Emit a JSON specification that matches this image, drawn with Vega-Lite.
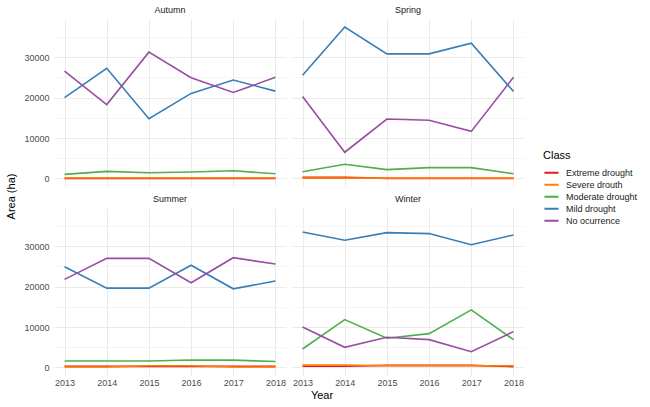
{
  "$schema": "https://vega.github.io/schema/vega-lite/v6.json",
  "background": "white",
  "padding": {"left": 5, "top": 6, "right": 5, "bottom": 2},
  "config": {
    "font": "Liberation Sans",
    "view": {"stroke": null},
    "axis": {
      "domain": false,
      "ticks": false,
      "labelFontSize": 9,
      "labelColor": "#4d4d4d",
      "gridColor": "#ebebeb",
      "labelPadding": 5
    },
    "header": {"labelFontSize": 9, "labelColor": "#1a1a1a", "labelPadding": 4},
    "title": {"fontSize": 11, "fontWeight": "normal", "color": "#000000"},
    "legend": {"titleFontSize": 11, "titleFontWeight": "normal", "labelFontSize": 9, "labelColor": "#1a1a1a", "titleColor": "#000000"}
  },
  "title": {"text": "Year", "orient": "bottom", "anchor": "middle", "offset": 3},
  "vconcat": [
    {
      "title": {"text": "Area (ha)", "orient": "left", "anchor": "middle", "offset": 7},
      "data": {
        "values": [
          {"s":"Autumn","c":"Extreme drought","y":2013,"v":20},{"s":"Autumn","c":"Extreme drought","y":2014,"v":20},{"s":"Autumn","c":"Extreme drought","y":2015,"v":20},{"s":"Autumn","c":"Extreme drought","y":2016,"v":20},{"s":"Autumn","c":"Extreme drought","y":2017,"v":20},{"s":"Autumn","c":"Extreme drought","y":2018,"v":20},
          {"s":"Spring","c":"Extreme drought","y":2013,"v":300},{"s":"Spring","c":"Extreme drought","y":2014,"v":300},{"s":"Spring","c":"Extreme drought","y":2015,"v":10},{"s":"Spring","c":"Extreme drought","y":2016,"v":10},{"s":"Spring","c":"Extreme drought","y":2017,"v":10},{"s":"Spring","c":"Extreme drought","y":2018,"v":10},
          {"s":"Summer","c":"Extreme drought","y":2013,"v":250},{"s":"Summer","c":"Extreme drought","y":2014,"v":250},{"s":"Summer","c":"Extreme drought","y":2015,"v":250},{"s":"Summer","c":"Extreme drought","y":2016,"v":250},{"s":"Summer","c":"Extreme drought","y":2017,"v":250},{"s":"Summer","c":"Extreme drought","y":2018,"v":250},
          {"s":"Winter","c":"Extreme drought","y":2013,"v":300},{"s":"Winter","c":"Extreme drought","y":2014,"v":300},{"s":"Winter","c":"Extreme drought","y":2015,"v":500},{"s":"Winter","c":"Extreme drought","y":2016,"v":500},{"s":"Winter","c":"Extreme drought","y":2017,"v":500},{"s":"Winter","c":"Extreme drought","y":2018,"v":200},

          {"s":"Autumn","c":"Severe drouth","y":2013,"v":100},{"s":"Autumn","c":"Severe drouth","y":2014,"v":100},{"s":"Autumn","c":"Severe drouth","y":2015,"v":100},{"s":"Autumn","c":"Severe drouth","y":2016,"v":100},{"s":"Autumn","c":"Severe drouth","y":2017,"v":100},{"s":"Autumn","c":"Severe drouth","y":2018,"v":100},
          {"s":"Spring","c":"Severe drouth","y":2013,"v":60},{"s":"Spring","c":"Severe drouth","y":2014,"v":60},{"s":"Spring","c":"Severe drouth","y":2015,"v":60},{"s":"Spring","c":"Severe drouth","y":2016,"v":60},{"s":"Spring","c":"Severe drouth","y":2017,"v":60},{"s":"Spring","c":"Severe drouth","y":2018,"v":60},
          {"s":"Summer","c":"Severe drouth","y":2013,"v":100},{"s":"Summer","c":"Severe drouth","y":2014,"v":100},{"s":"Summer","c":"Severe drouth","y":2015,"v":400},{"s":"Summer","c":"Severe drouth","y":2016,"v":400},{"s":"Summer","c":"Severe drouth","y":2017,"v":100},{"s":"Summer","c":"Severe drouth","y":2018,"v":100},
          {"s":"Winter","c":"Severe drouth","y":2013,"v":600},{"s":"Winter","c":"Severe drouth","y":2014,"v":600},{"s":"Winter","c":"Severe drouth","y":2015,"v":400},{"s":"Winter","c":"Severe drouth","y":2016,"v":400},{"s":"Winter","c":"Severe drouth","y":2017,"v":400},{"s":"Winter","c":"Severe drouth","y":2018,"v":400},

          {"s":"Autumn","c":"Moderate drought","y":2013,"v":1000},{"s":"Autumn","c":"Moderate drought","y":2014,"v":1750},{"s":"Autumn","c":"Moderate drought","y":2015,"v":1420},{"s":"Autumn","c":"Moderate drought","y":2016,"v":1600},{"s":"Autumn","c":"Moderate drought","y":2017,"v":1900},{"s":"Autumn","c":"Moderate drought","y":2018,"v":1170},
          {"s":"Spring","c":"Moderate drought","y":2013,"v":1670},{"s":"Spring","c":"Moderate drought","y":2014,"v":3500},{"s":"Spring","c":"Moderate drought","y":2015,"v":2170},{"s":"Spring","c":"Moderate drought","y":2016,"v":2670},{"s":"Spring","c":"Moderate drought","y":2017,"v":2670},{"s":"Spring","c":"Moderate drought","y":2018,"v":1170},
          {"s":"Summer","c":"Moderate drought","y":2013,"v":1600},{"s":"Summer","c":"Moderate drought","y":2014,"v":1600},{"s":"Summer","c":"Moderate drought","y":2015,"v":1600},{"s":"Summer","c":"Moderate drought","y":2016,"v":1850},{"s":"Summer","c":"Moderate drought","y":2017,"v":1800},{"s":"Summer","c":"Moderate drought","y":2018,"v":1450},
          {"s":"Winter","c":"Moderate drought","y":2013,"v":4560},{"s":"Winter","c":"Moderate drought","y":2014,"v":11850},{"s":"Winter","c":"Moderate drought","y":2015,"v":7210},{"s":"Winter","c":"Moderate drought","y":2016,"v":8370},{"s":"Winter","c":"Moderate drought","y":2017,"v":14250},{"s":"Winter","c":"Moderate drought","y":2018,"v":6880},

          {"s":"Autumn","c":"Mild drought","y":2013,"v":20000},{"s":"Autumn","c":"Mild drought","y":2014,"v":27280},{"s":"Autumn","c":"Mild drought","y":2015,"v":14800},{"s":"Autumn","c":"Mild drought","y":2016,"v":21050},{"s":"Autumn","c":"Mild drought","y":2017,"v":24360},{"s":"Autumn","c":"Mild drought","y":2018,"v":21620},
          {"s":"Spring","c":"Mild drought","y":2013,"v":25530},{"s":"Spring","c":"Mild drought","y":2014,"v":37500},{"s":"Spring","c":"Mild drought","y":2015,"v":30850},{"s":"Spring","c":"Mild drought","y":2016,"v":30850},{"s":"Spring","c":"Mild drought","y":2017,"v":33500},{"s":"Spring","c":"Mild drought","y":2018,"v":21550},
          {"s":"Summer","c":"Mild drought","y":2013,"v":24940},{"s":"Summer","c":"Mild drought","y":2014,"v":19640},{"s":"Summer","c":"Mild drought","y":2015,"v":19640},{"s":"Summer","c":"Mild drought","y":2016,"v":25300},{"s":"Summer","c":"Mild drought","y":2017,"v":19470},{"s":"Summer","c":"Mild drought","y":2018,"v":21380},
          {"s":"Winter","c":"Mild drought","y":2013,"v":33550},{"s":"Winter","c":"Mild drought","y":2014,"v":31480},{"s":"Winter","c":"Mild drought","y":2015,"v":33390},{"s":"Winter","c":"Mild drought","y":2016,"v":33140},{"s":"Winter","c":"Mild drought","y":2017,"v":30400},{"s":"Winter","c":"Mild drought","y":2018,"v":32800},

          {"s":"Autumn","c":"No ocurrence","y":2013,"v":26600},{"s":"Autumn","c":"No ocurrence","y":2014,"v":18300},{"s":"Autumn","c":"No ocurrence","y":2015,"v":31270},{"s":"Autumn","c":"No ocurrence","y":2016,"v":24940},{"s":"Autumn","c":"No ocurrence","y":2017,"v":21300},{"s":"Autumn","c":"No ocurrence","y":2018,"v":25030},
          {"s":"Spring","c":"No ocurrence","y":2013,"v":20300},{"s":"Spring","c":"No ocurrence","y":2014,"v":6480},{"s":"Spring","c":"No ocurrence","y":2015,"v":14710},{"s":"Spring","c":"No ocurrence","y":2016,"v":14390},{"s":"Spring","c":"No ocurrence","y":2017,"v":11650},{"s":"Spring","c":"No ocurrence","y":2018,"v":25040},
          {"s":"Summer","c":"No ocurrence","y":2013,"v":21800},{"s":"Summer","c":"No ocurrence","y":2014,"v":27000},{"s":"Summer","c":"No ocurrence","y":2015,"v":27000},{"s":"Summer","c":"No ocurrence","y":2016,"v":20960},{"s":"Summer","c":"No ocurrence","y":2017,"v":27170},{"s":"Summer","c":"No ocurrence","y":2018,"v":25600},
          {"s":"Winter","c":"No ocurrence","y":2013,"v":10020},{"s":"Winter","c":"No ocurrence","y":2014,"v":4970},{"s":"Winter","c":"No ocurrence","y":2015,"v":7460},{"s":"Winter","c":"No ocurrence","y":2016,"v":6880},{"s":"Winter","c":"No ocurrence","y":2017,"v":3890},{"s":"Winter","c":"No ocurrence","y":2018,"v":8860}
        ]
      },
      "facet": {"field": "s", "type": "nominal", "title": null, "header": {"labelOrient": "top"}},
      "columns": 2,
      "spacing": {"column": 6, "row": 9},
      "spec": {
        "width": 232,
        "height": 167,
        "mark": {"type": "line", "strokeWidth": 1.6, "clip": true},
        "encoding": {
          "x": {
            "field": "y", "type": "quantitative",
            "scale": {"domain": [2012.75, 2018.25], "nice": false, "zero": false},
            "axis": {
              "title": null,
              "values": [2013, 2013.5, 2014, 2014.5, 2015, 2015.5, 2016, 2016.5, 2017, 2017.5, 2018],
              "labelExpr": "datum.value % 1 === 0 ? datum.value : ''",
              "format": "d",
              "labelFlush": false,
              "labelOverlap": false,
              "labelPadding": 3,
              "gridWidth": {"condition": {"test": "datum.value % 1 === 0", "value": 1}, "value": 0.5}
            }
          },
          "y": {
            "field": "v", "type": "quantitative",
            "scale": {"domain": [-1880, 39480], "nice": false, "zero": false},
            "axis": {
              "title": null,
              "values": [0, 5000, 10000, 15000, 20000, 25000, 30000, 35000],
              "labelExpr": "datum.value % 10000 === 0 ? datum.value : ''",
              "labelOverlap": false,
              "labelFlush": false,
              "gridWidth": {"condition": {"test": "datum.value % 10000 === 0", "value": 1}, "value": 0.5}
            }
          },
          "color": {
            "field": "c", "type": "nominal",
            "scale": {
              "domain": ["Extreme drought", "Severe drouth", "Moderate drought", "Mild drought", "No ocurrence"],
              "range": ["#E41A1C", "#FF7F00", "#4DAF4A", "#377EB8", "#984EA3"]
            },
            "legend": {
              "title": "Class",
              "orient": "none",
              "legendX": 489,
              "legendY": 131,
              "symbolType": "stroke",
              "symbolSize": 200,
              "symbolStrokeWidth": 2,
              "rowPadding": 0,
              "clipHeight": 11.7,
              "labelOffset": 6,
              "titlePadding": 6
            }
          }
        }
      }
    }
  ]
}
